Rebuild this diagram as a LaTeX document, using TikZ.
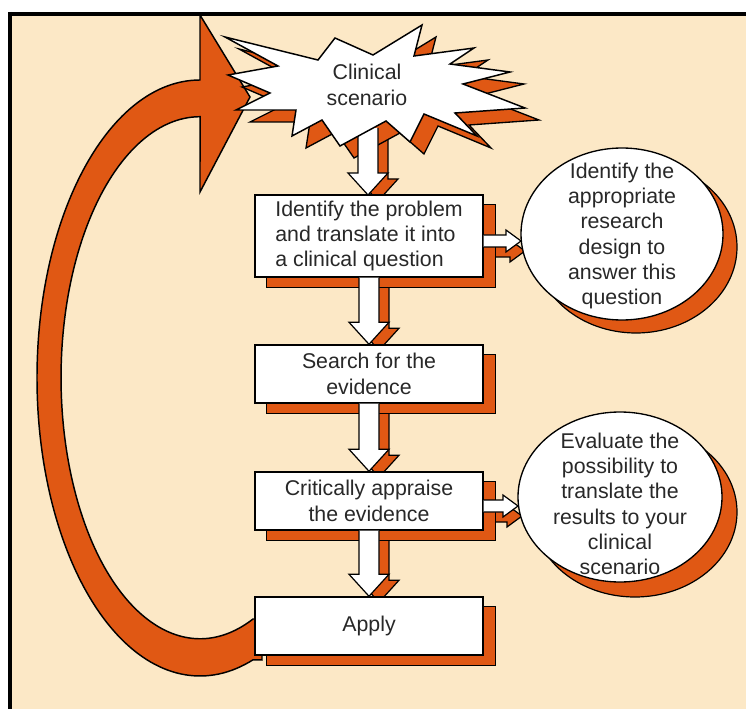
\documentclass[tikz,border=0pt]{standalone}
\usepackage{fontspec}
\setmainfont{Liberation Sans}
\usetikzlibrary{shapes.geometric,calc}
\definecolor{beige}{RGB}{252,232,198}
\definecolor{org}{RGB}{224,88,20}
\definecolor{txt}{RGB}{40,40,40}
\pgfdeclarelayer{bg}
\pgfdeclarelayer{shad}
\pgfsetlayers{bg,shad,main}
% #1 from, #2 to, #3 style, #4 dx, #5 dy (canvas)
\newcommand\blockdown[5]{%
  \draw[#3] let \p1=#1, \p2=#2 in
    ({\x1-7.5pt+#4},{\y1+#5}) -- ({\x1-7.5pt+#4},{\y2+16.5pt+#5})
    -- ({\x1-15pt+#4},{\y2+16.5pt+#5}) -- ({\x1+#4},{\y2+#5})
    -- ({\x1+15pt+#4},{\y2+16.5pt+#5}) -- ({\x1+7.5pt+#4},{\y2+16.5pt+#5})
    -- ({\x1+7.5pt+#4},{\y1+#5});
}
\newcommand\blockright[5]{%
  \draw[#3] let \p1=#1, \p2=#2 in
    ({\x1+#4},{\y1+4.5pt+#5}) -- ({\x2-11.25pt+#4},{\y1+4.5pt+#5})
    -- ({\x2-11.25pt+#4},{\y1+8.25pt+#5}) -- ({\x2+#4},{\y1+#5})
    -- ({\x2-11.25pt+#4},{\y1-8.25pt+#5}) -- ({\x2-11.25pt+#4},{\y1-4.5pt+#5})
    -- ({\x1+#4},{\y1-4.5pt+#5});
}
\begin{document}
\begin{tikzpicture}[x=0.75pt,y=-0.75pt,
  every node/.style={font=\fontsize{16}{19}\selectfont, text=txt},
  box/.style={draw=black, line width=1.1pt, fill=white, minimum width=171pt, inner sep=0pt},
  oval/.style={ellipse, inner sep=0pt, outer sep=0pt},
  ovalline/.style={draw=black, line width=1pt, fill=white},
  shadowfill/.style={fill=org, draw=black, line width=0.9pt, line join=miter},
  blk/.style={fill=white, draw=black, line width=0.9pt, line join=miter},
]
\useasboundingbox (0,0) rectangle (746,709);

\begin{pgfonlayer}{bg}
  \fill[white] (0,0) rectangle (746,709);
  \fill[beige] (10,14) rectangle (746,709);
  \draw[line width=3pt] (8,14) -- (746,14);
  \draw[line width=3pt] (10,12) -- (10,709);
  % big return arrow
  \draw[shadowfill, line width=1.1pt]
    (200,80) arc[start angle=-90, end angle=-289, x radius=163, y radius=298]
    -- (262,660) -- (262,619) -- (253,619)
    arc[start angle=-292.4, end angle=-90, x radius=139, y radius=261]
    -- (200,192) -- (250,97) -- (200,15) -- cycle;
\end{pgfonlayer}

% ellipses
\node[oval, minimum width=151.5pt, minimum height=129pt] (e1) at (622,234) {};
\draw[ovalline] (e1.center) ellipse [x radius=101, y radius=86];
\node[align=center] (e1t) at (622,236) {Identify the\\appropriate\\research\\design to\\answer this\\question};
\node[oval, minimum width=153pt, minimum height=127.5pt] (e2) at (620,497) {};
\draw[ovalline] (e2.center) ellipse [x radius=102, y radius=85];
\node[align=center] (e2t) at (620,504) {Evaluate the\\possibility to\\translate the\\results to your\\clinical\\scenario};

\coordinate (scenbot) at (368,128);
\blockdown{(scenbot)}{(369,195)}{blk}{0pt}{0pt}

% star
\draw[blk, line width=1.1pt] (225,37) -- (318,60) -- (335,38) -- (373,55) -- (422,25) -- (414,56)
  -- (474,48) -- (450,64) -- (510,72) -- (463,84) -- (525,108) -- (455,113) -- (477,136)
  -- (424,114) -- (410,142) -- (386,121) -- (340,146) -- (322,120) -- (292,136) -- (296,110)
  -- (236,110) -- (270,93) -- (228,75) -- (278,66) -- cycle;
\node[align=center] (scen) at (367,85) {Clinical\\scenario};

\node[box, minimum height=61.5pt, align=left] (b1) at (369,236) {Identify the problem\\and translate it into\\a clinical question};
\node[box, minimum height=43.5pt, align=center] (b2) at (369,374) {Search for the\\evidence};
\node[box, minimum height=43.5pt, align=center] (b3) at (369,501) {Critically appraise\\the evidence};
\node[box, minimum height=43.5pt, align=center] (b4) at (369,626) {Apply};

% arrows
\blockdown{(b1.south)}{(b2.north)}{blk}{0pt}{0pt}
\blockdown{(b2.south)}{(b3.north)}{blk}{0pt}{0pt}
\blockdown{(b3.south)}{(b4.north)}{blk}{0pt}{0pt}
\blockright{($(b1.east)+(0,5)$)}{(e1.west)}{blk}{0pt}{0pt}
\blockright{($(b3.east)+(0,5)$)}{(e2.west)}{blk}{0pt}{0pt}

% shadows
\begin{pgfonlayer}{shad}
  \blockdown{(scenbot)}{(369,195)}{shadowfill}{7.5pt}{-4.5pt}
  \blockdown{(b1.south)}{(b2.north)}{shadowfill}{7.5pt}{-4.5pt}
  \blockdown{(b2.south)}{(b3.north)}{shadowfill}{7.5pt}{-4.5pt}
  \blockdown{(b3.south)}{(b4.north)}{shadowfill}{7.5pt}{-4.5pt}
  \blockright{($(b1.east)+(0,5)$)}{(e1.west)}{shadowfill}{3pt}{-7.5pt}
  \blockright{($(b3.east)+(0,5)$)}{(e2.west)}{shadowfill}{3pt}{-7.5pt}
  \draw[shadowfill, line width=1pt, shift={(14,12)}] (225,37) -- (318,60) -- (335,38) -- (373,55) -- (422,25) -- (414,56)
    -- (474,48) -- (450,64) -- (510,72) -- (463,84) -- (525,108) -- (455,113) -- (477,136)
    -- (424,114) -- (410,142) -- (386,121) -- (340,146) -- (322,120) -- (292,136) -- (296,110)
    -- (236,110) -- (270,93) -- (228,75) -- (278,66) -- cycle;
  \foreach \b in {b1,b2,b3,b4}
    \draw[shadowfill] ($(\b.south west)+(12,10)$) rectangle ($(\b.north east)+(12,10)$);
  \draw[shadowfill] ($(e1.center)+(14,13)$) ellipse [x radius=101, y radius=86];
  \draw[shadowfill] ($(e2.center)+(15,15)$) ellipse [x radius=102, y radius=85];
\end{pgfonlayer}
\end{tikzpicture}
\end{document}
